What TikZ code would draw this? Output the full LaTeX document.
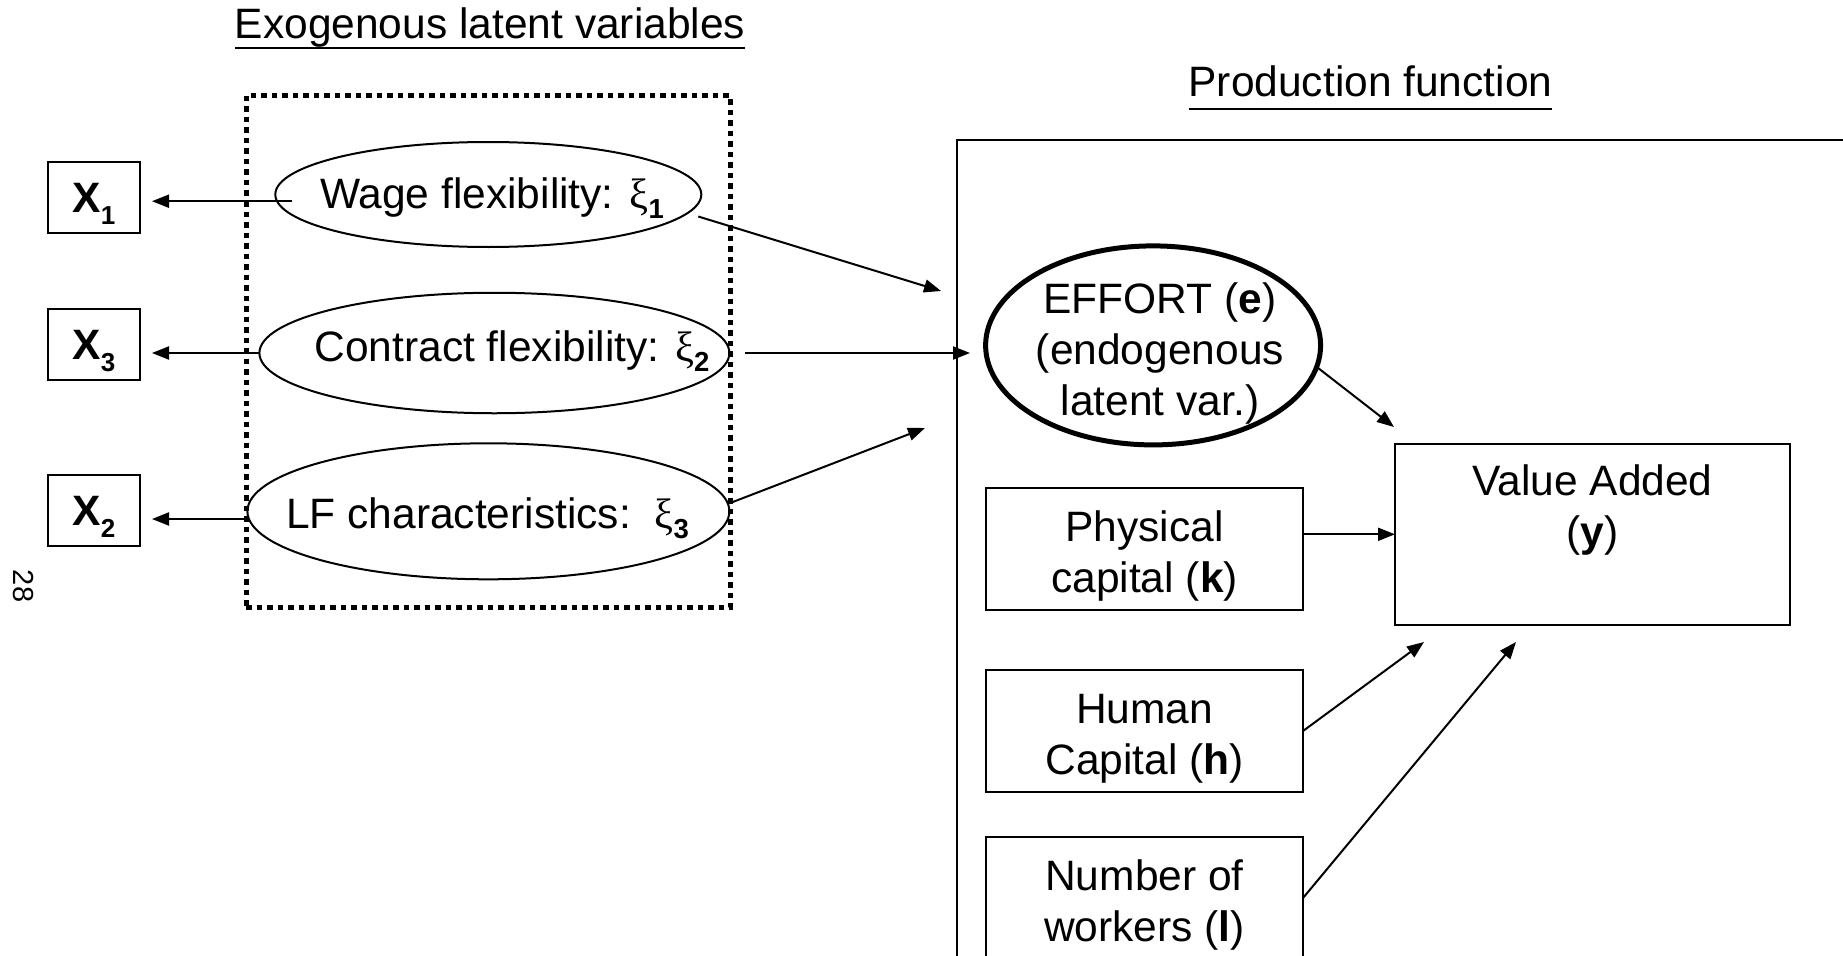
\documentclass[tikz,border=0pt]{standalone}
\usepackage{fontspec}
\setmainfont{Liberation Sans}
\newfontfamily\greekfont{Liberation Serif}
\usetikzlibrary{arrows.meta,calc,shapes.geometric}

% invisible struts that fix the vertical extent of multi-line labels
\newcommand{\hstrut}[1]{\rule{0pt}{#1pt}}
\newcommand{\dstrut}[1]{\rule[-#1pt]{0pt}{#1pt}}
% latent variable symbol with bold index, observed variable with bold index
\newcommand{\xisub}[1]{{\greekfont ξ}\raisebox{-10pt}{\fontsize{27.5}{30}\selectfont\bfseries #1}}
\newcommand{\xvar}[1]{\textbf{X}\raisebox{-12pt}{\fontsize{26}{28}\selectfont\bfseries #1}}

\begin{document}
\begin{tikzpicture}[x=1pt, y=-1pt,
  every node/.style={font=\fontsize{42.5}{51}\selectfont, inner sep=0pt, outer sep=0pt},
  arr/.style={line width=2pt, -{Triangle[length=17pt,width=13pt]}},
  xbox/.style={draw, line width=2pt, minimum width=92pt, minimum height=71pt,
               text height=30.4pt, text depth=0pt},
  latent/.style={draw, ellipse, line width=2pt},
  prodbox/.style={draw, line width=2pt, minimum width=317pt, minimum height=122pt, align=center},
  dotframe/.style={draw, line width=5pt, dash pattern=on 5.5pt off 5pt},
  uline/.style={line width=2.3pt}
]
\useasboundingbox (0,0) rectangle (1843,955);
\fill[white] (0,0) rectangle (1843,955);
\clip (0,0) rectangle (1843,955);

% headings
\node[anchor=base] (exo) at (490,39) {Exogenous latent variables};
\draw[uline] ($(exo.base west)+(0,9)$) -- ($(exo.base east)+(0,9)$);
\node[anchor=base] (prod) at (1370.5,97) {Production function};
\draw[uline] ($(prod.base west)+(0,12)$) -- ($(prod.base east)+(0,12)$);

% page number
\node[font=\fontsize{29}{30}\selectfont, rotate=-90] (pg) at (23,586) {28};

% exogenous block
\node[dotframe, minimum width=484pt, minimum height=512pt] (exobox) at (488,351.5) {};

\node[xbox] (x1) at (94,197.2) {\xvar{1}};
\node[xbox] (x3) at (94,344.3) {\xvar{3}};
\node[xbox] (x2) at (94,510.5) {\xvar{2}};

\node[latent, minimum width=426pt, minimum height=105pt] (e1) at (488.3,194.5) {};
\node[latent, minimum width=470pt, minimum height=120.5pt] (e2) at (494.4,353) {};
\node[latent, minimum width=482pt, minimum height=136pt] (e3) at (488.4,511.3) {};
\node[anchor=base] (e1t) at (492,208) {Wage flexibility: \xisub{1}};
\node[anchor=base] (e2t) at (512,361) {Contract flexibility: \xisub{2}};
\node[anchor=base] (e3t) at (487.5,528) {LF characteristics:\ \ \xisub{3}};

% production function block
\draw[line width=2pt] (957,140) rectangle (1900,1000);

\node[draw, ellipse, line width=5pt, minimum width=335pt, minimum height=199pt] (eff) at (1153.1,345.4) {};
\node[align=center] (efft) at (1160,354) {\hstrut{32}EFFORT (\textbf{e})\\(endogenous\\latent var.)\dstrut{12}};

\node[prodbox] (phys) at (1144.5,549) {\hstrut{47}Physical\\capital (\textbf{k})\dstrut{12}};
\node[prodbox] (hum) at (1144.5,731) {\hstrut{47}Human\\Capital (\textbf{h})\dstrut{12}};
\node[prodbox] (wrk) at (1144.5,898) {\hstrut{47}Number of\\workers (\textbf{l})\dstrut{12}};
\node[draw, line width=2pt, minimum width=395pt, minimum height=181pt, align=center] (va) at (1592.5,534.5)
  {\hstrut{32}Value Added\\(\textbf{y})\dstrut{60}};

% indicators
\draw[arr, shorten >=12pt] ($(e1.west)+(17,6.7)$) coordinate (s1) -- (x1.east |- s1);
\draw[arr, shorten >=12pt] (e2.west) -- (x3.east |- e2.west);
\draw[arr, shorten >=12pt] ($(e3.west)+(0,7.7)$) coordinate (s3) -- (x2.east |- s3);

% effects on effort
\coordinate (p1) at (941,291);
\coordinate (p3) at (925,428);
\draw[arr] ($(e1.center)+(210,22)$) -- (p1);
\draw[arr, shorten <=15.5pt, shorten >=15.6pt] (e2.east) -- (eff.west |- e2.east);
\draw[arr] ($(e3.east)+(0,-8)$) -- (p3);

% inputs of the production function
\draw[arr] ($(eff.center)+(165,22.6)$) -- ($(va.north west)+(-1,-17)$);
\draw[arr] ($(phys.east)+(0,-14.7)$) coordinate (s4) -- (va.west |- s4);
\draw[arr] (hum.east) -- ($(va.south west)+(29,17)$);
\draw[arr] (wrk.east) -- ($(va.south west)+(121,17)$);
\end{tikzpicture}
\end{document}
